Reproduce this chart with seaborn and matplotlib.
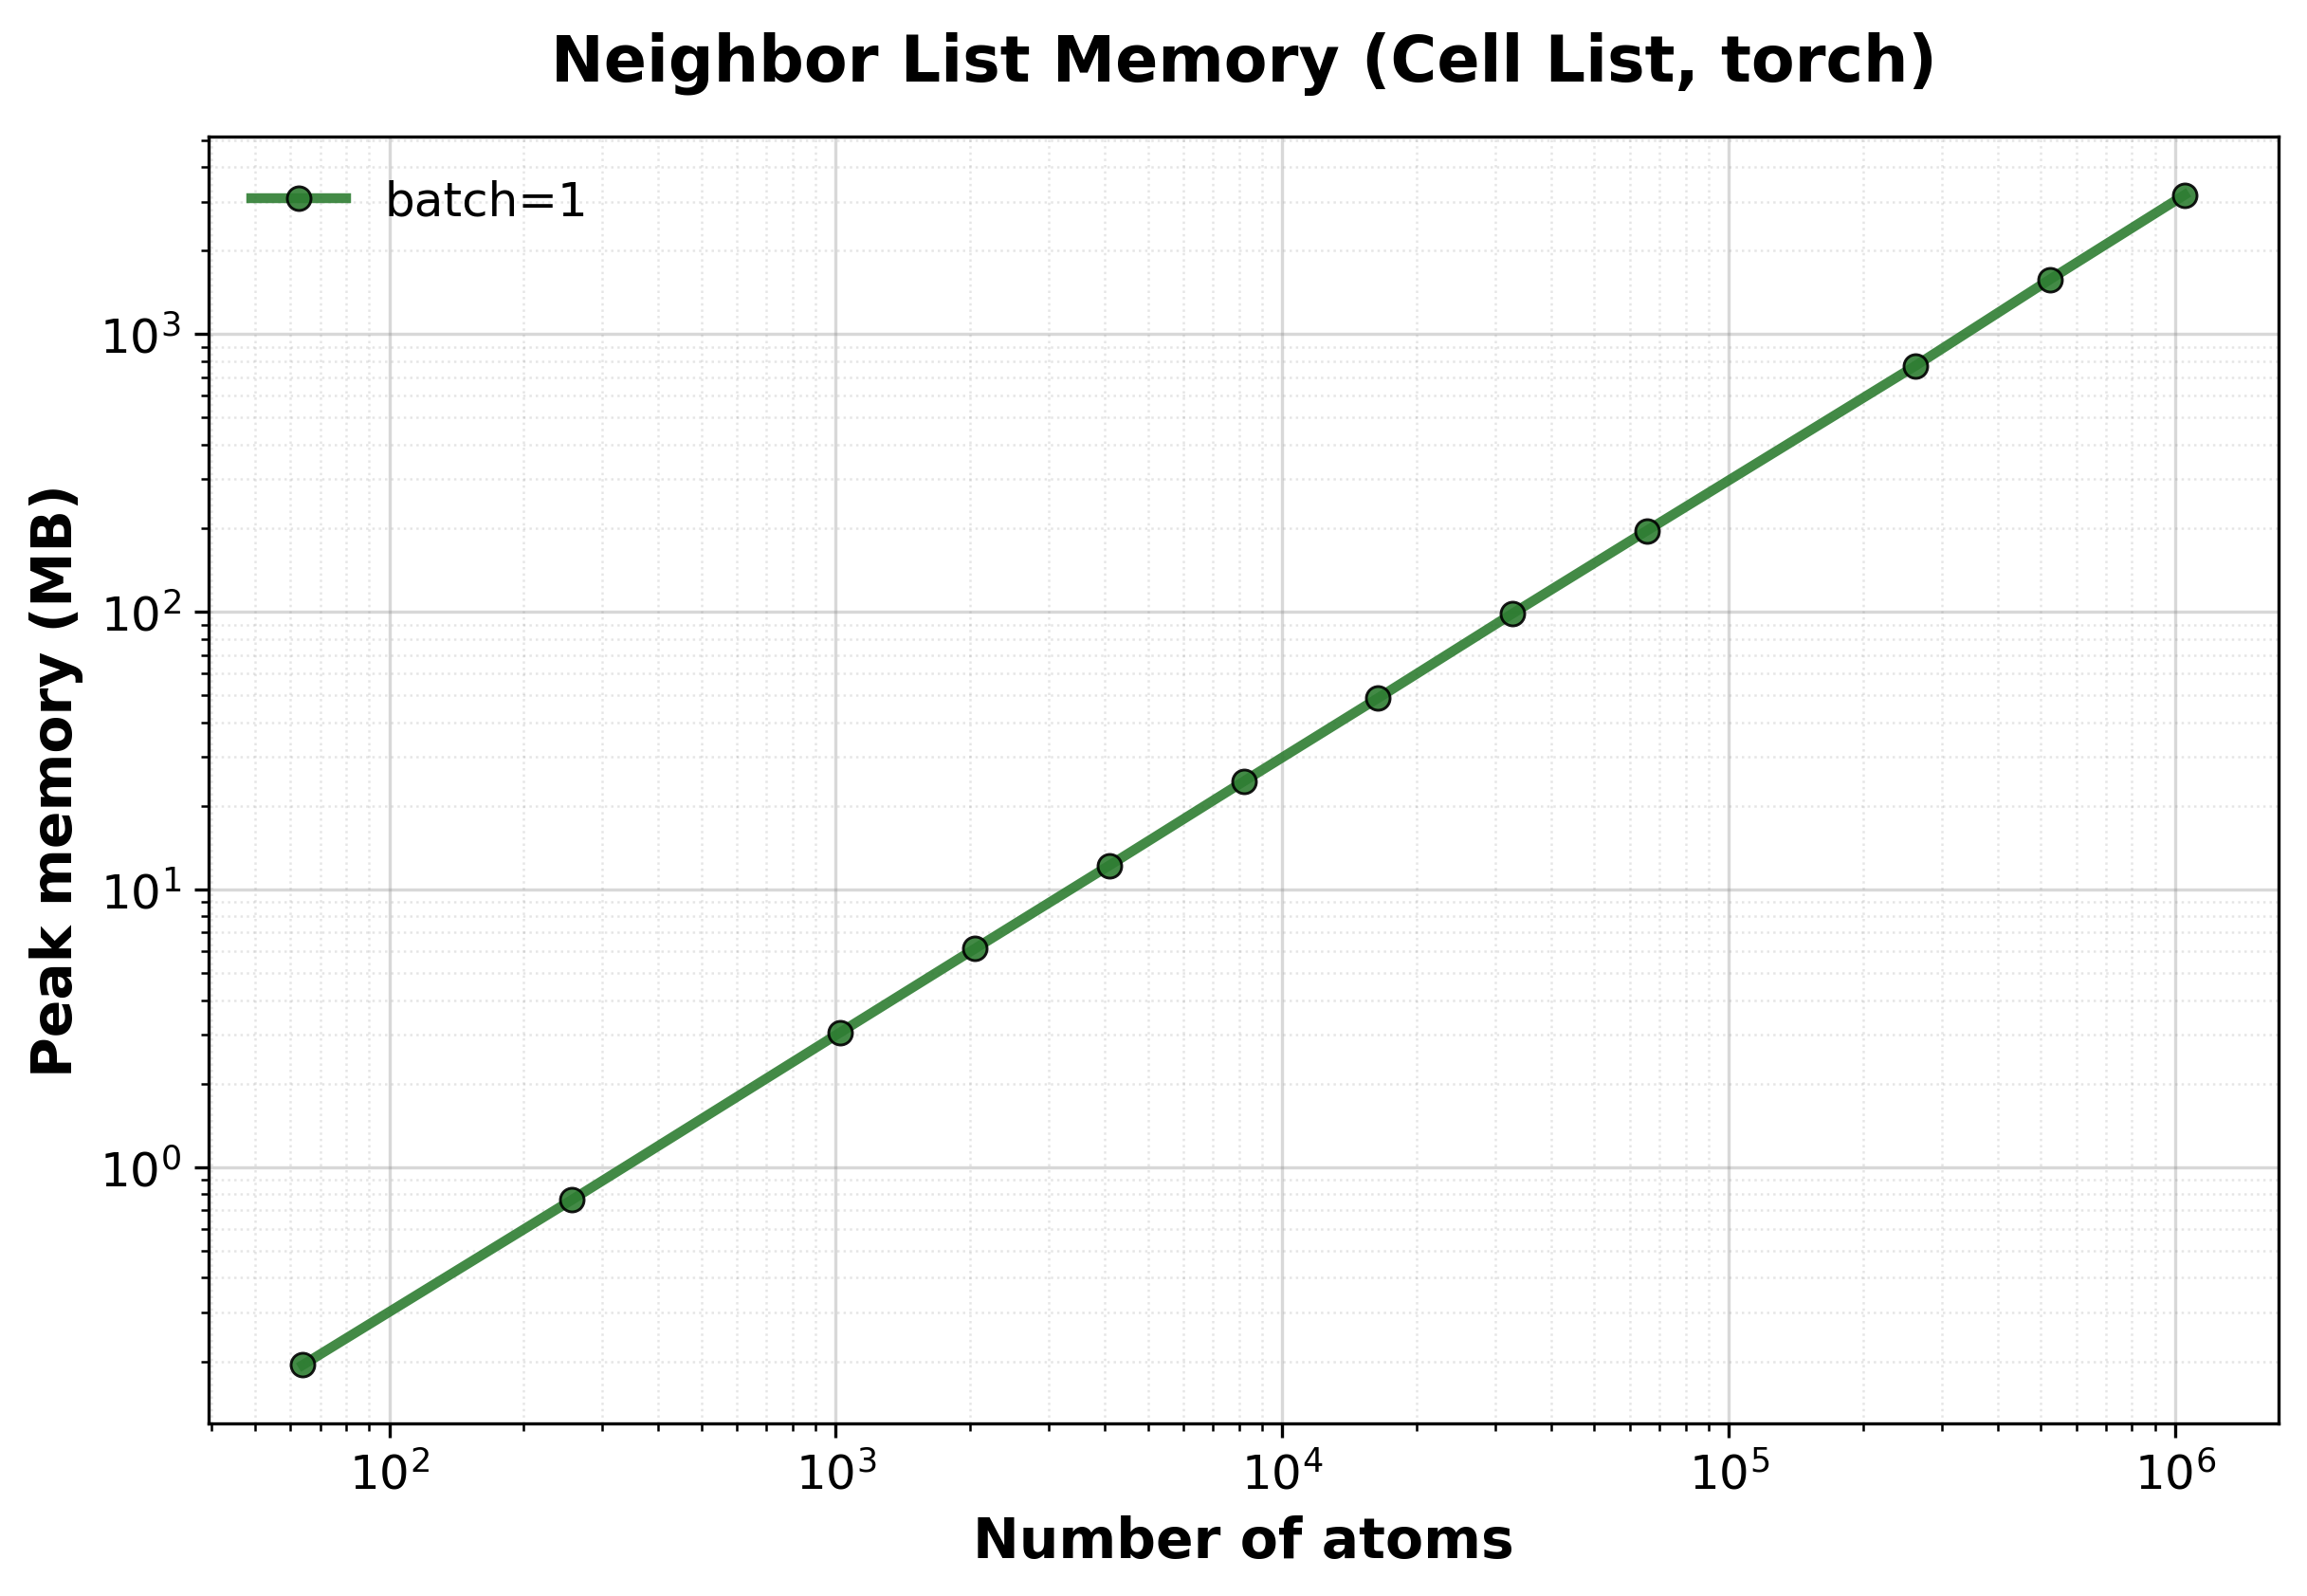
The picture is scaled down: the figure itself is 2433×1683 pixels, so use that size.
import matplotlib
matplotlib.use("Agg")
import pandas as pd
import seaborn as sns
import matplotlib.pyplot as plt

# atoms vs peak memory for the cell list neighbor search (torch backend)
n_atoms = [64, 256, 1024, 2048, 4096, 8192, 16384, 32768, 65536, 262144, 524288, 1048576]
peak_mb = [0.194, 0.762, 3.06, 6.12, 12.2, 24.5, 48.9, 98.5, 196, 770, 1575, 3170]
batch_label = "batch=1"

df = pd.DataFrame({"atoms": n_atoms, "memory": peak_mb, "series": batch_label})

fig, ax = plt.subplots(figsize=(8.113, 5.613), dpi=300)
fig.subplots_adjust(left=0.0904, right=0.9873, top=0.914, bottom=0.108)

sns.lineplot(data=df, x="atoms", y="memory", hue="series", palette=["#2e7d32"],
             marker="o", markersize=6, markeredgecolor="black", markeredgewidth=0.7,
             linewidth=2.5, alpha=0.9, ax=ax)

ax.set_xscale("log")
ax.set_yscale("log")

ax.grid(True, which="major", color="gray", alpha=0.3, linewidth=0.8)
ax.grid(True, which="minor", color="gray", alpha=0.2, linestyle=":", linewidth=0.6)

ax.set_title("Neighbor List Memory (Cell List, torch)", fontsize=16, fontweight="bold", pad=14)
ax.set_xlabel("Number of atoms", fontsize=14, fontweight="bold")
ax.set_ylabel("Peak memory (MB)", fontsize=14, fontweight="bold")
ax.tick_params(axis="both", which="major", labelsize=12)

ax.legend(loc="upper left", frameon=False, fontsize=12)

fig.savefig("out.png", dpi=300)
